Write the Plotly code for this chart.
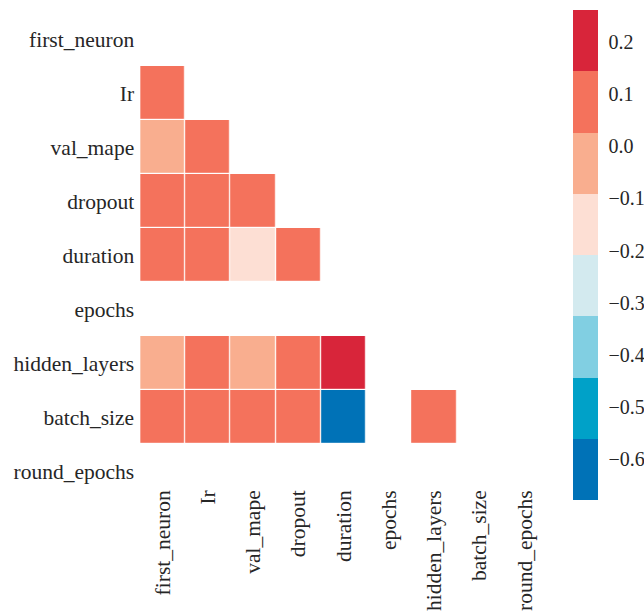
import plotly.graph_objects as go

labels = ["first_neuron", "Ir", "val_mape", "dropout", "duration",
          "epochs", "hidden_layers", "batch_size", "round_epochs"]

# Lower-triangle correlation values (row by row, columns left of the diagonal)
row_lr = [0.08]
row_val_mape = [-0.02, 0.06]
row_dropout = [0.07, 0.05, 0.09]
row_duration = [0.10, 0.08, -0.15, 0.06]
row_epochs = [None, None, None, None, None]
row_hidden_layers = [0.00, 0.07, -0.03, 0.05, 0.261, None]
row_batch_size = [0.05, 0.06, 0.04, 0.08, -0.678, None, 0.09]
row_round_epochs = [None] * 8

lower_rows = [[], row_lr, row_val_mape, row_dropout, row_duration,
              row_epochs, row_hidden_layers, row_batch_size, row_round_epochs]

n = len(labels)
z = [[None] * n for _ in range(n)]
for i, row in enumerate(lower_rows):
    for j, v in enumerate(row):
        z[i][j] = v

zmin, zmax = -0.678, 0.261
palette = ["#0072B7", "#00A1C8", "#81CFE2", "#D3EAEF",
           "#FDDFD4", "#F9AE8F", "#F4725C", "#D8253A"]

# Step colorscale: each colour holds over an equal-width bin
colorscale = []
k = len(palette)
for idx, c in enumerate(palette):
    colorscale.append([idx / k, c])
    colorscale.append([(idx + 1) / k, c])

font_family = "Liberation Serif"
text_color = "#262626"
W, H = 644, 613

fig = go.Figure(go.Heatmap(
    z=z, x=labels, y=labels,
    zmin=zmin, zmax=zmax,
    colorscale=colorscale,
    xgap=1.2, ygap=1.2,
    hoverongaps=False,
    colorbar=dict(
        thickness=25,
        lenmode="pixels", len=490,
        yanchor="top", y=1 - 10 / H,
        xanchor="left", x=573 / W,
        xpad=0, ypad=0,
        outlinewidth=0,
        tickvals=[-0.6, -0.5, -0.4, -0.3, -0.2, -0.1, 0.0, 0.1, 0.2],
        tickformat=".1f",
        ticks="outside", ticklen=7, tickcolor="rgba(0,0,0,0)",
        tickfont=dict(family=font_family, size=20, color=text_color),
    ),
))

fig.update_layout(
    width=W, height=H,
    margin=dict(l=0, r=0, t=0, b=0),
    plot_bgcolor="white",
    paper_bgcolor="white",
    font=dict(family=font_family, size=21.5, color=text_color),
)
fig.update_xaxes(showgrid=False, zeroline=False, tickangle=-90, ticks="",
                 ticklabelstandoff=14, automargin=False,
                 domain=[140.4 / W, 548 / W], range=[-0.5, 8.5])
fig.update_yaxes(showgrid=False, zeroline=False, ticks="",
                 ticklabelstandoff=5, automargin=False,
                 domain=[1 - 471 / H, 1 - 39 / H], range=[8, 0])

fig.write_html("out.html")
